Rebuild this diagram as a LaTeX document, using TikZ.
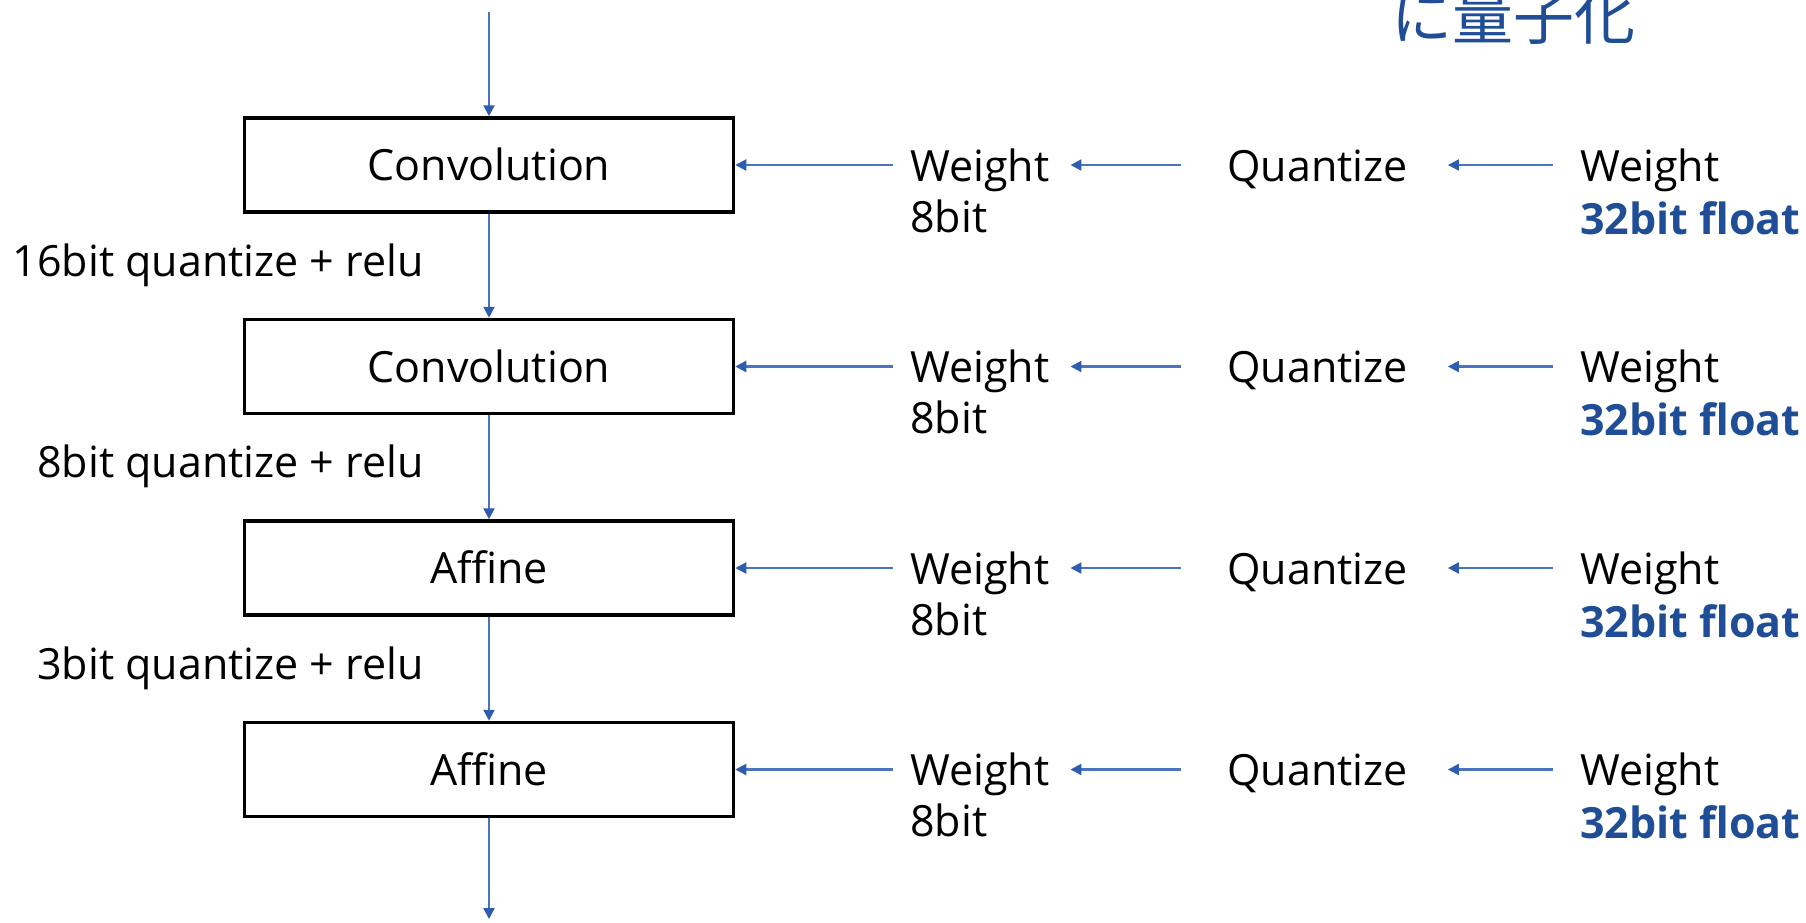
\documentclass[tikz,border=0pt]{standalone}
\usepackage{fontspec}
\setmainfont{Open Sans}
\newfontfamily\cjk{Noto Sans CJK JP}
\usetikzlibrary{arrows.meta}
\definecolor{lineblue}{HTML}{4A74C0}
\definecolor{tipblue}{HTML}{2E5CAF}
\definecolor{textblue}{HTML}{1F4E97}
\begin{document}
\begin{tikzpicture}[x=1pt,y=-1pt,
  txt/.style={inner sep=0pt, font=\fontsize{43}{52}\selectfont, text=black},
  blk/.style={draw=black, line width=3.5pt, minimum width=489pt, minimum height=94pt,
    inner sep=0pt, text height=31pt, text depth=0pt, font=\fontsize{43}{52}\selectfont},
  arr/.style={draw=lineblue, line width=2.2pt, -{Triangle[length=11pt,width=11pt,color=tipblue]}},
]
\useasboundingbox (0,0) rectangle (1806,922);
\node[anchor=base west, inner sep=0pt, text=textblue, font=\cjk\fontsize{61}{61}\selectfont] (jp) at (1391,39) {に量子化};
\foreach \i/\c/\t in {1/165/Convolution,2/366.5/Convolution,3/568/Affine,4/769.5/Affine}{
  \node[blk] (b\i) at (489,\c) {\t};
  \node[txt, anchor=base west] (w\i) at (910,\c+16) {Weight};
  \node[txt, anchor=base west] (e\i) at (910,\c+67) {8bit};
  \node[txt, anchor=base west] (q\i) at (1227,\c+16) {Quantize};
  \node[txt, anchor=base west] (v\i) at (1580,\c+16) {Weight};
  \node[txt, anchor=base west, text=textblue, font=\fontsize{43}{52}\selectfont\bfseries] (f\i) at (1580,\c+69) {32bit float};
  \draw[arr, shorten <=17pt] (w\i.west |- b\i) -- (b\i.east);
  \draw[arr, shorten <=46pt, shorten >=21pt] (q\i.west |- b\i) -- (w\i.east |- b\i);
  \draw[arr, shorten <=27pt, shorten >=40pt] (v\i.west |- b\i) -- (q\i.east |- b\i);
}
\node[txt, anchor=base east] (l1) at (424,276) {16bit quantize + relu};
\node[txt, anchor=base east] (l2) at (424,477.5) {8bit quantize + relu};
\node[txt, anchor=base east] (l3) at (424,679) {3bit quantize + relu};
\coordinate (top) at (489,12);
\coordinate (bot) at (489,919);
\draw[arr] (top) -- (b1.north);
\draw[arr] (b1.south) -- (b2.north);
\draw[arr] (b2.south) -- (b3.north);
\draw[arr] (b3.south) -- (b4.north);
\draw[arr] (b4.south) -- (bot);
\end{tikzpicture}
\end{document}
